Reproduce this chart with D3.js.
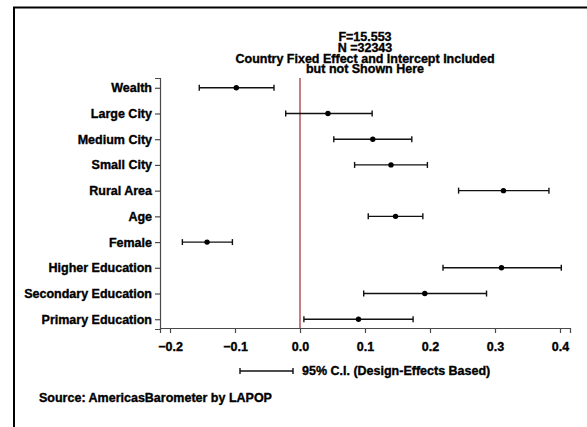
<!DOCTYPE html>
<html>
<head>
<meta charset="utf-8">
<script src="https://cdn.jsdelivr.net/npm/d3@7"></script>
<style>
  body { margin: 0; background: #fff; }
  svg text { font-family: "Liberation Sans", Arial, sans-serif; font-weight: bold; fill: #000;
             stroke: #000; stroke-width: 0.35px; }
</style>
</head>
<body>
<div id="chart"></div>
<script>
// chart data
var categories = ["Wealth", "Large City", "Medium City", "Small City", "Rural Area",
                  "Age", "Female", "Higher Education", "Secondary Education", "Primary Education"];
var estimates = [-0.098, 0.043, 0.112, 0.140, 0.313, 0.147, -0.143, 0.310, 0.192, 0.090];
var ciLow     = [-0.155, -0.022, 0.052, 0.084, 0.244, 0.105, -0.181, 0.220, 0.098, 0.006];
var ciHigh    = [-0.040, 0.111, 0.172, 0.196, 0.383, 0.189, -0.104, 0.402, 0.287, 0.174];
var xTicks = [-0.2, -0.1, 0.0, 0.1, 0.2, 0.3, 0.4];
var titleLines = ["F=15.553", "N =32343", "Country Fixed Effect and Intercept Included", "but not Shown Here"];
var legendText = "95% C.I. (Design-Effects Based)";
var sourceText = "Source: AmericasBarometer by LAPOP";

var width = 587, height = 427;
var plot = {left: 160, right: 570, top: 78, bottom: 328};
var fontSize = "12.5px";

var svg = d3.select("#chart").append("svg")
    .attr("width", width)
    .attr("height", height);

// outer frame (runs off the right and bottom edges)
svg.append("rect")
    .attr("x", 14).attr("y", 7.5)
    .attr("width", 600).attr("height", 440)
    .attr("fill", "none")
    .attr("stroke", "#000")
    .attr("stroke-width", 2);

// scales
var x = d3.scaleLinear()
    .domain([-0.2154, 0.4154])
    .range([plot.left, plot.right]);
var y = d3.scalePoint()
    .domain(categories)
    .range([plot.top, plot.bottom + 1])
    .padding(0.38);

var rows = categories.map(function(c, i) {
  return {name: c, est: estimates[i], lo: ciLow[i], hi: ciHigh[i]};
});

// title
svg.append("g").selectAll("text")
    .data(titleLines)
  .enter().append("text")
    .attr("x", (plot.left + plot.right) / 2)
    .attr("y", function(d, i) { return 37 + i * 10.7; })
    .attr("dy", "0.35em")
    .attr("text-anchor", "middle")
    .style("font-size", fontSize)
    .text(function(d) { return d; });

// zero line
svg.append("line")
    .attr("x1", x(0)).attr("x2", x(0))
    .attr("y1", plot.top).attr("y2", plot.bottom)
    .attr("stroke", "#a0282d")
    .attr("stroke-width", 1.2);

// x axis
var xAxis = svg.append("g")
    .attr("transform", "translate(0," + plot.bottom + ")")
    .call(d3.axisBottom(x)
      .tickValues(xTicks)
      .tickFormat(d3.format(".1f"))
      .tickSizeOuter(0)
      .tickSize(5)
      .tickPadding(8));

// y axis
var yAxis = svg.append("g")
    .attr("transform", "translate(" + plot.left + ",0)")
    .call(d3.axisLeft(y)
      .tickSizeOuter(0)
      .tickSize(5)
      .tickPadding(3));

svg.selectAll(".domain, .tick line")
    .attr("stroke", "#4a4a4a")
    .attr("stroke-width", 1.2);
svg.selectAll(".tick text")
    .style("font-size", fontSize)
    .style("font-family", "Liberation Sans, Arial, sans-serif")
    .style("font-weight", "bold")
    .attr("fill", "#000");
xAxis.selectAll(".tick text").attr("dy", "0.8em");

// confidence intervals
var ci = svg.append("g").selectAll("g")
    .data(rows)
  .enter().append("g")
    .attr("transform", function(d) { return "translate(0," + y(d.name) + ")"; });

ci.append("line")
    .attr("x1", function(d) { return x(d.lo); })
    .attr("x2", function(d) { return x(d.hi); })
    .attr("stroke", "#111").attr("stroke-width", 1.4);
ci.append("line")
    .attr("x1", function(d) { return x(d.lo); })
    .attr("x2", function(d) { return x(d.lo); })
    .attr("y1", -3).attr("y2", 3)
    .attr("stroke", "#111").attr("stroke-width", 1.4);
ci.append("line")
    .attr("x1", function(d) { return x(d.hi); })
    .attr("x2", function(d) { return x(d.hi); })
    .attr("y1", -3).attr("y2", 3)
    .attr("stroke", "#111").attr("stroke-width", 1.4);
ci.append("circle")
    .attr("cx", function(d) { return x(d.est); })
    .attr("r", 2.7)
    .attr("fill", "#000");

// legend
var legend = svg.append("g").attr("transform", "translate(240,371)");
legend.append("line").attr("x1", 0).attr("x2", 53)
    .attr("stroke", "#111").attr("stroke-width", 1.4);
legend.append("line").attr("x1", 0).attr("x2", 0).attr("y1", -3).attr("y2", 3)
    .attr("stroke", "#111").attr("stroke-width", 1.4);
legend.append("line").attr("x1", 53).attr("x2", 53).attr("y1", -3).attr("y2", 3)
    .attr("stroke", "#111").attr("stroke-width", 1.4);
legend.append("text")
    .attr("x", 62).attr("dy", "0.35em")
    .style("font-size", fontSize)
    .text(legendText);

// source note
svg.append("text")
    .attr("x", 39).attr("y", 398)
    .attr("dy", "0.35em")
    .style("font-size", fontSize)
    .text(sourceText);
</script>
</body>
</html>
